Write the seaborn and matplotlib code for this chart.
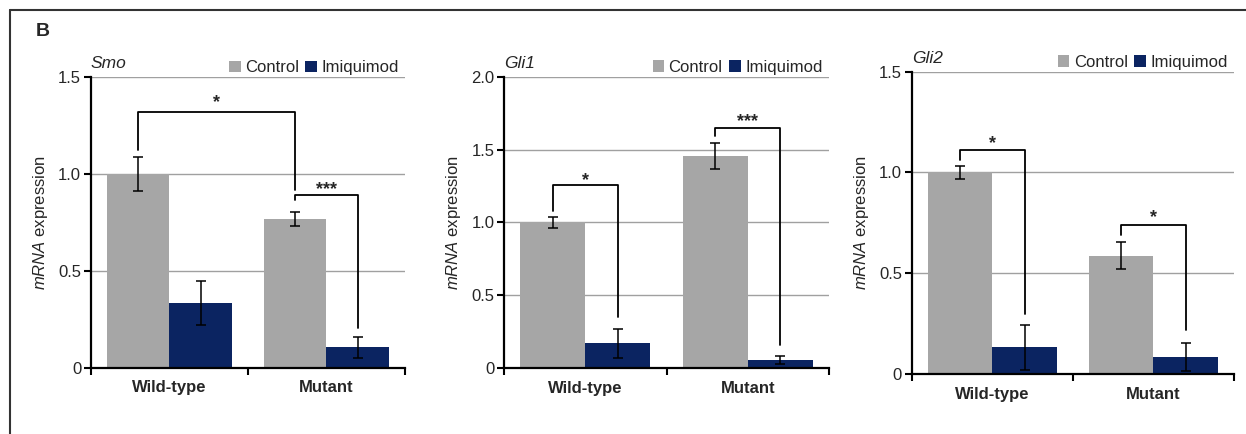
import numpy as np
import pandas as pd
import seaborn as sns
import matplotlib.pyplot as plt
from matplotlib.lines import Line2D

# data
genotypes = ['Wild-type', 'Mutant']
treatments = ['Control', 'Imiquimod']
genes = ['Smo', 'Gli1', 'Gli2']

# means, order: WT-control, WT-imiq, Mut-control, Mut-imiq
smo_mean = [1.00, 0.335, 0.766, 0.107]
smo_err = [0.09, 0.113, 0.036, 0.053]
gli1_mean = [1.00, 0.171, 1.456, 0.057]
gli1_err = [0.04, 0.10, 0.09, 0.025]
gli2_mean = [1.00, 0.132, 0.587, 0.083]
gli2_err = [0.03, 0.11, 0.068, 0.07]

# y axis settings
smo_ticks = [0, 0.5, 1.0, 1.5]
gli1_ticks = [0, 0.5, 1.0, 1.5, 2.0]
gli2_ticks = [0, 0.5, 1.0, 1.5]

# significance brackets: label, (genotype, treatment) left, (genotype, treatment) right,
# bar height, left leg end, right leg end, star height
smo_brackets = [('*', (0, 0), (1, 0), 1.32, 1.124, 0.918, 1.37),
                ('***', (1, 0), (1, 1), 0.892, 0.866, 0.206, 0.92)]
gli1_brackets = [('*', (0, 0), (0, 1), 1.257, 1.08, 0.354, 1.29),
                 ('***', (1, 0), (1, 1), 1.65, 1.59, 0.16, 1.69)]
gli2_brackets = [('*', (0, 0), (0, 1), 1.111, 1.06, 0.296, 1.145),
                 ('*', (1, 0), (1, 1), 0.739, 0.69, 0.218, 0.775)]

means = [smo_mean, gli1_mean, gli2_mean]
errs = [smo_err, gli1_err, gli2_err]
ticks = [smo_ticks, gli1_ticks, gli2_ticks]
brackets = [smo_brackets, gli1_brackets, gli2_brackets]

palette = {'Control': '#a6a6a6', 'Imiquimod': '#0b2461'}

sns.set_style('white')
plt.rcParams['font.family'] = ['Liberation Sans', 'DejaVu Sans']
plt.rcParams['mathtext.fontset'] = 'custom'
plt.rcParams['mathtext.it'] = 'Liberation Sans:italic'
plt.rcParams['mathtext.rm'] = 'Liberation Sans'

fig = plt.figure(figsize=(12.46, 4.34), dpi=100)
positions = [[0.0730, 0.1521, 0.2520, 0.6705],
             [0.4047, 0.1514, 0.2606, 0.6719],
             [0.7317, 0.1382, 0.2587, 0.6966]]

for i, gene in enumerate(genes):
    ax = fig.add_axes(positions[i])
    df = pd.DataFrame({
        'genotype': [g for g in genotypes for t in treatments],
        'treatment': [t for g in genotypes for t in treatments],
        'value': means[i],
        'err': errs[i],
    })
    sns.barplot(data=df, x='genotype', y='value', hue='treatment', order=genotypes,
                hue_order=treatments, palette=palette, errorbar=None, width=0.8,
                saturation=1, linewidth=0, legend=True, ax=ax, zorder=2)

    # error bars from bar positions
    bar_conts = list(ax.containers)
    centers = {}
    for h, cont in enumerate(bar_conts):
        for c, patch in enumerate(cont.patches):
            x = patch.get_x() + patch.get_width() / 2
            centers[(c, h)] = x
            row = df[(df['genotype'] == genotypes[c]) & (df['treatment'] == treatments[h])].iloc[0]
            ax.errorbar(x, row['value'], yerr=row['err'], fmt='none', ecolor='black',
                        elinewidth=1.1, capsize=3.5, capthick=1.1, zorder=3)

    # brackets
    for label, left, right, top, lend, rend, sy in brackets[i]:
        x0, x1 = centers[left], centers[right]
        ax.plot([x0, x0, x1, x1], [lend, top, top, rend], color='black', lw=1.3,
                zorder=4, clip_on=False)
        ax.text((x0 + x1) / 2, sy, label, ha='center', va='center', fontsize=13,
                fontweight='bold', zorder=4)

    ax.set_xlim(-0.5, 1.5)
    ax.set_ylim(ticks[i][0], ticks[i][-1])
    ax.set_yticks(ticks[i])
    ax.set_yticklabels(['0'] + [f'{t:.1f}' for t in ticks[i][1:]], fontsize=12)
    ax.yaxis.grid(True, color='#a0a0a0', lw=1, zorder=0)
    ax.set_axisbelow(True)
    ax.set_xticks([0, 1])
    ax.set_xticklabels(genotypes, fontsize=12, fontweight='bold')
    ax.set_xticks([-0.5, 0.5, 1.5], minor=True)
    ax.tick_params(axis='x', which='major', length=0, pad=9)
    ax.tick_params(axis='x', which='minor', length=5, width=1.5, direction='out',
                   color='black', bottom=True)
    ax.tick_params(axis='y', length=5, width=1.5, direction='out', color='black',
                   left=True, pad=2)
    for s in ['top', 'right']:
        ax.spines[s].set_visible(False)
    for s in ['left', 'bottom']:
        ax.spines[s].set_color('black')
        ax.spines[s].set_linewidth(1.6)
    ax.set_xlabel('')
    ax.set_ylabel(r'$\it{mRNA}$ expression', fontsize=12, labelpad=6)
    ax.text(0.0, 1.02, gene, transform=ax.transAxes, fontsize=12.5, style='italic',
            ha='left', va='bottom')
    ax.legend(loc='lower right', bbox_to_anchor=(0.985, 1.0), ncol=2, frameon=False,
              handlelength=0.7, handleheight=0.7, handletextpad=0.25, columnspacing=0.4,
              borderaxespad=0, borderpad=0.1, fontsize=12)

# outer frame and panel letter
fig.add_artist(Line2D([10 / 1246, 1], [1 - 10 / 434, 1 - 10 / 434], transform=fig.transFigure,
                      color='#333333', lw=1.5))
fig.add_artist(Line2D([10 / 1246, 10 / 1246], [0, 1 - 10 / 434], transform=fig.transFigure,
                      color='#333333', lw=1.5))
fig.text(36 / 1246, 1 - 31 / 434, 'B', fontsize=14, fontweight='bold', va='center')

fig.savefig('out.png', dpi=100)
